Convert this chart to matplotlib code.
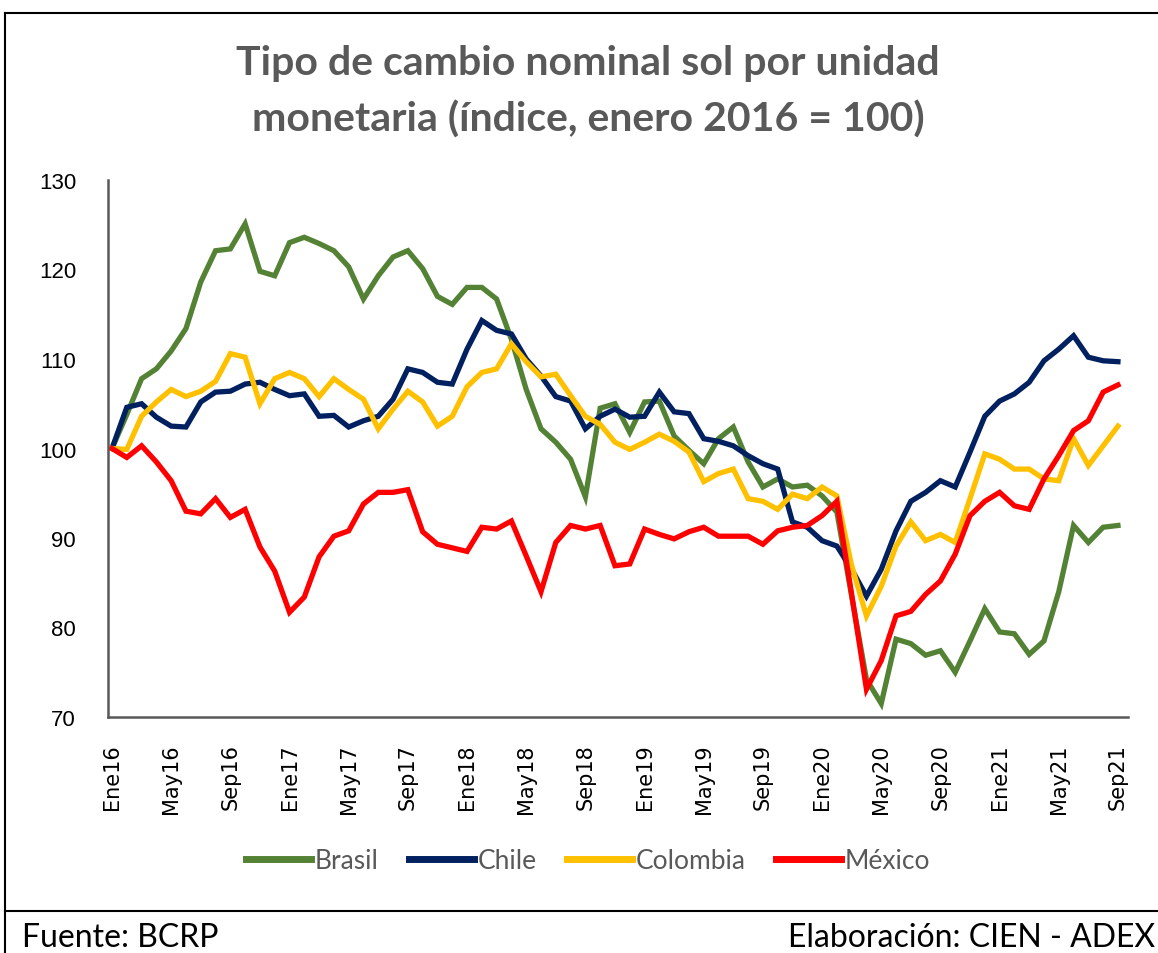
import numpy as np
import matplotlib.pyplot as plt
from matplotlib.lines import Line2D

# monthly index, Jan 2016 = 100
months = ["Ene", "Feb", "Mar", "Abr", "May", "Jun", "Jul", "Ago", "Sep", "Oct", "Nov", "Dic"]
labels = [f"{months[i % 12]}{16 + i // 12}" for i in range(69)]

brasil = [100.0, 103.8, 107.8, 108.9, 110.9, 113.4, 118.6, 122.1, 122.3, 125.1,
          119.8, 119.3, 123.0, 123.6, 122.9, 122.1, 120.3, 116.7, 119.3, 121.4,
          122.1, 120.1, 117.0, 116.1, 118.0, 118.0, 116.7, 112.2, 106.6, 102.2,
          100.7, 98.8, 94.6, 104.5, 105.0, 101.8, 105.2, 105.3, 101.4, 99.8,
          98.3, 101.1, 102.4, 98.5, 95.7, 96.6, 95.7, 95.9, 94.7, 92.9,
          83.5, 74.2, 71.5, 78.7, 78.2, 76.9, 77.4, 75.0, 78.5, 82.1,
          79.5, 79.3, 77.0, 78.5, 84.0, 91.4, 89.5, 91.2, 91.4]

chile = [100.0, 104.6, 105.0, 103.5, 102.5, 102.4, 105.2, 106.3, 106.4, 107.2,
         107.4, 106.6, 105.9, 106.1, 103.6, 103.7, 102.4, 103.1, 103.6, 105.5,
         108.9, 108.5, 107.4, 107.2, 111.1, 114.3, 113.2, 112.8, 110.0, 108.1,
         105.8, 105.3, 102.2, 103.6, 104.4, 103.5, 103.6, 106.3, 104.1, 103.9,
         101.1, 100.8, 100.3, 99.2, 98.3, 97.7, 91.8, 91.2, 89.7, 89.1,
         86.5, 83.5, 86.5, 90.8, 94.1, 95.1, 96.4, 95.7, 99.6, 103.6,
         105.3, 106.1, 107.4, 109.8, 111.1, 112.6, 110.2, 109.8, 109.7]

colombia = [100.0, 99.9, 103.6, 105.2, 106.6, 105.8, 106.4, 107.5, 110.6, 110.2,
            105.0, 107.8, 108.5, 107.8, 105.8, 107.8, 106.6, 105.5, 102.2, 104.4,
            106.4, 105.2, 102.5, 103.6, 106.9, 108.5, 108.9, 111.7, 109.7, 108.0,
            108.3, 105.9, 103.6, 102.7, 100.7, 99.9, 100.7, 101.6, 100.8, 99.6,
            96.3, 97.2, 97.7, 94.4, 94.1, 93.2, 94.9, 94.4, 95.7, 94.7,
            86.9, 81.3, 84.6, 89.1, 91.8, 89.7, 90.4, 89.5, 94.4, 99.4,
            98.8, 97.7, 97.7, 96.6, 96.4, 101.1, 98.1, 100.3, 102.5]

mexico = [100.0, 99.0, 100.3, 98.5, 96.4, 93.0, 92.7, 94.4, 92.3, 93.2,
          89.0, 86.3, 81.7, 83.4, 87.9, 90.2, 90.8, 93.8, 95.1, 95.1,
          95.4, 90.7, 89.3, 88.9, 88.5, 91.2, 91.0, 91.9, 88.0, 84.0,
          89.5, 91.4, 91.0, 91.4, 86.9, 87.1, 91.0, 90.4, 89.9, 90.7,
          91.2, 90.2, 90.2, 90.2, 89.3, 90.8, 91.2, 91.4, 92.5, 94.1,
          83.7, 73.1, 76.3, 81.3, 81.8, 83.7, 85.2, 88.2, 92.5, 94.1,
          95.1, 93.6, 93.2, 96.6, 99.2, 102.0, 103.1, 106.3, 107.1]

series = {"Brasil": brasil, "Chile": chile, "Colombia": colombia, "México": mexico}
colors = {"Brasil": "#548235", "Chile": "#002060", "Colombia": "#FFC000", "México": "#FF0000"}

fig = plt.figure(figsize=(11.58, 9.54), dpi=100)
ax = fig.add_axes([108 / 1158, 1 - 718 / 954, (1128 - 108) / 1158, (718 - 181) / 954])

x = np.arange(len(labels))
for name, vals in series.items():
    ax.plot(x, vals, color=colors[name], lw=3.8, solid_joinstyle="miter", label=name)

ax.set_xlim(-0.27, 68.68)
ax.set_ylim(70, 130)
ax.set_yticks(range(70, 131, 10))
ax.set_xticks(x[::4])
ax.set_xticklabels(labels[::4], rotation=90, fontsize=15, family="DejaVu Sans", color="#000000")
ax.tick_params(axis="y", labelsize=16, length=0, pad=23)
ax.tick_params(axis="x", length=0, pad=19)
for lab in ax.get_yticklabels():
    lab.set_family("Liberation Sans")
for s in ["top", "right"]:
    ax.spines[s].set_visible(False)
for s in ["left", "bottom"]:
    ax.spines[s].set_color("#595959")
    ax.spines[s].set_linewidth(1.8)

fig.text(0.508, 1 - 64 / 954, "Tipo de cambio nominal sol por unidad", ha="center", va="center",
         fontsize=29.5, fontweight="bold", color="#595959", family="Lato")
fig.text(0.508, 1 - 120 / 954, "monetaria (índice, enero 2016 = 100)", ha="center", va="center",
         fontsize=29.5, fontweight="bold", color="#595959", family="Lato")

handles = [Line2D([0], [0], color=colors[n], lw=5) for n in series]
leg = fig.legend(handles, list(series.keys()), loc="center", bbox_to_anchor=(0.508, 1 - 862 / 954),
                 ncol=4, frameon=False, handlelength=2.45, handletextpad=0.15, columnspacing=1.15,
                 prop={"family": "Lato", "size": 19})
for t in leg.get_texts():
    t.set_color("#595959")

# outer frame and footer
fig.add_artist(Line2D([5 / 1158, 1], [1 - 14 / 954, 1 - 14 / 954], color="black", lw=1.5))
fig.add_artist(Line2D([5 / 1158, 5 / 1158], [0, 1 - 14 / 954], color="black", lw=1.5))
fig.add_artist(Line2D([5 / 1158, 1], [1 - 912 / 954, 1 - 912 / 954], color="black", lw=1.5))
fig.text(22 / 1158, 1 - 938 / 954, "Fuente: BCRP", ha="left", va="center", fontsize=23, family="Lato")
fig.text(1155 / 1158, 1 - 938 / 954, "Elaboración: CIEN - ADEX", ha="right", va="center",
         fontsize=23, family="Lato")

fig.savefig("out.png", dpi=100)
